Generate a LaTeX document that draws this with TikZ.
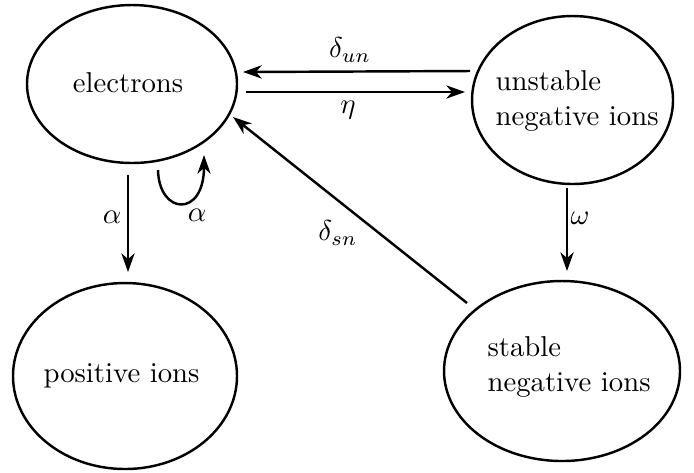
\documentclass[tikz,border=0pt]{standalone}
\usetikzlibrary{shapes.geometric,arrows.meta,calc}
\begin{document}
\begin{tikzpicture}[x=0.348pt,y=-0.348pt,
  ell/.style={draw,ellipse,line width=0.85pt,inner sep=0pt},
  lbl/.style={inner sep=0pt},
  arr/.style={line width=0.85pt,-{Stealth[length=6.5pt,width=4.6pt,inset=2pt]}}]
\useasboundingbox (0,0) rectangle (694,472);
% states
\node[ell,minimum width=210*0.348pt,minimum height=158*0.348pt] (el) at (132,84) {};
\node[ell,minimum width=201*0.348pt,minimum height=168*0.348pt] (un) at (572.5,100) {};
\node[ell,minimum width=224*0.348pt,minimum height=186*0.348pt] (pos) at (125,376) {};
\node[ell,minimum width=236*0.348pt,minimum height=180*0.348pt] (st) at (562,371) {};
% texts
\node[lbl,anchor=base] (tel) at (128,92) {electrons};
\node[lbl,anchor=north west,align=left] (tun) at (495,70) {unstable\\negative ions};
\node[lbl,anchor=base] (tpos) at (121.5,382) {positive ions};
\node[lbl,anchor=north west,align=left] (tst) at (487,336) {stable\\negative ions};
% connectors
\draw[arr] ($(un.center)+(-102.5,-29)$) -- ($(el.center)+(111,-12)$);
\draw[arr] ($(el.center)+(114,8)$) -- ($(un.center)+(-107.5,-8)$);
\draw[arr] ($(st.center)+(-95,-68)$) -- ($(el.center)+(101,33)$);
\draw[arr] ($(un.center)+(-5.5,88)$) -- ($(st.center)+(5,-100)$);
\draw[arr] ($(el.center)+(-4,91)$) -- ($(pos.center)+(3,-104)$);
\draw[arr] ($(el.center)+(26,86)$) .. controls ($(el.center)+(27,131)$) and ($(el.center)+(72,134)$) .. ($(el.center)+(72,71)$);
% labels
\node[lbl] (lun) at (350,50) {$\delta_{un}$};
\node[lbl] (leta) at (348,110) {$\eta$};
\node[lbl] (lsn) at (338,233) {$\delta_{sn}$};
\node[lbl] (lom) at (580,218) {$\omega$};
\node[lbl] (la1) at (112,217) {$\alpha$};
\node[lbl] (la2) at (197,215) {$\alpha$};
\end{tikzpicture}
\end{document}
